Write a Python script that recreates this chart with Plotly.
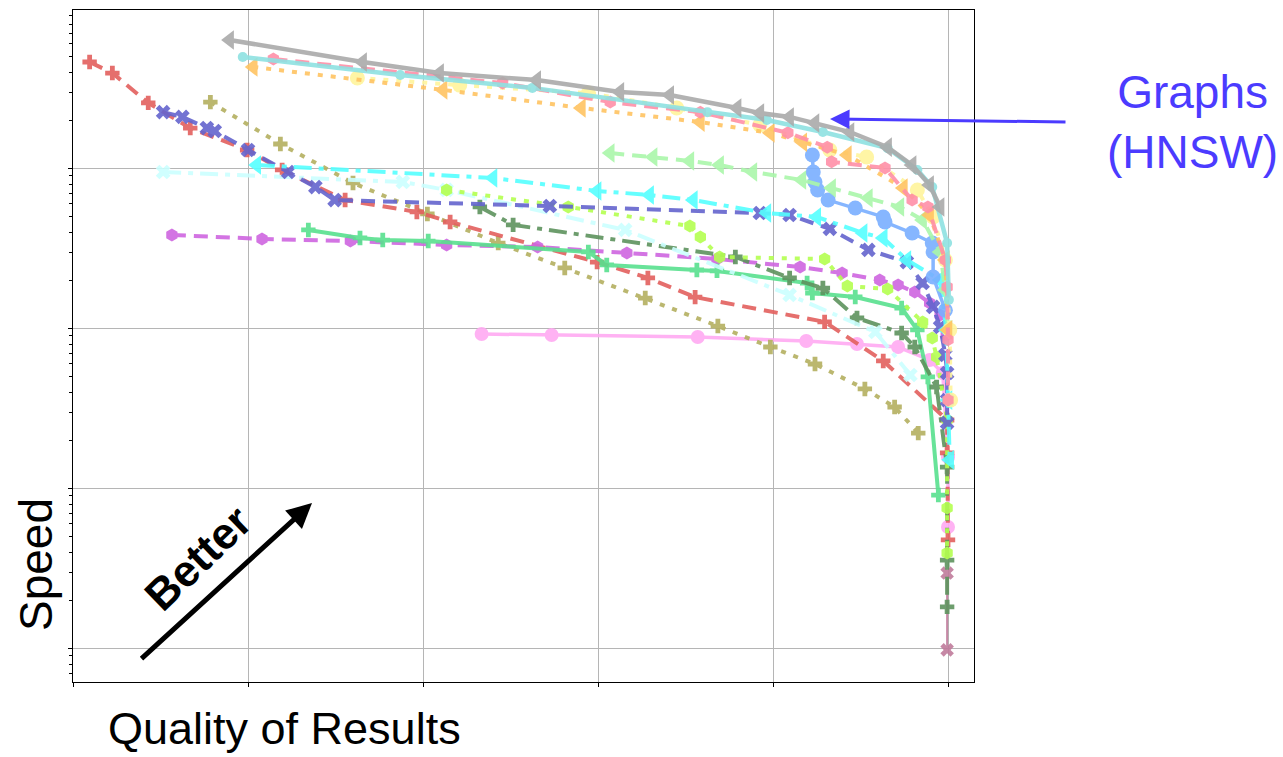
import plotly.graph_objects as go

# ---------------- data (recall, queries per second) ----------------
gray_x = [0.179, 0.331, 0.419, 0.530, 0.625, 0.682, 0.759, 0.785, 0.819, 0.848, 0.888, 0.931, 0.959, 0.979, 0.991]
gray_y = [63500, 46300, 39500, 35700, 30100, 28800, 23900, 22200, 21000, 19250, 16900, 13600, 10500, 7890, 5750]

teal_x = [0.194, 0.374, 0.525, 0.725, 0.793, 0.857, 0.931, 0.965, 0.982, 0.999, 1.001]
teal_y = [49800, 38400, 31900, 22500, 20100, 16900, 13400, 9790, 7660, 3420, 1510]

pink_x = [0.229, 0.491, 0.614, 0.717, 0.817, 0.862, 0.867, 0.928, 0.959, 0.977, 0.997, 0.999, 1.000, 1.000]
pink_y = [48300, 34200, 26000, 22500, 16700, 13600, 11000, 10070, 6350, 5750, 2680, 1820, 850, 357]

orange_x = [0.206, 0.423, 0.581, 0.717, 0.797, 0.834, 0.885, 0.949, 0.979, 0.997, 1.000]
orange_y = [43100, 31000, 23900, 19500, 16700, 14600, 12150, 7550, 5120, 2680, 980]

yellow_x = [0.325, 0.442, 0.589, 0.690, 0.785, 0.865, 0.907, 0.965, 0.983, 0.997, 1.002, 1.003]
yellow_y = [36800, 33200, 29600, 23900, 18700, 13050, 11800, 7340, 4980, 2680, 980, 357]

lgreen_x = [0.614, 0.663, 0.705, 0.739, 0.777, 0.833, 0.867, 0.909, 0.945, 0.971, 0.991, 0.997, 1.000]
lgreen_y = [12500, 11800, 11140, 10520, 9510, 8480, 7550, 6540, 5750, 4770, 3010, 1740, 980]

corn_x = [0.845, 0.846, 0.848, 0.851, 0.863, 0.894, 0.926, 0.928, 0.959, 0.982, 0.983, 0.983, 0.997]
corn_y = [12150, 9510, 8240, 7340, 6350, 5660, 4980, 4630, 3950, 3420, 3010, 2100, 1300]

cyan_x = [0.210, 0.480, 0.599, 0.659, 0.709, 0.793, 0.850, 0.903, 0.926, 0.953, 0.991, 0.998, 1.000, 1.002]
cyan_y = [10520, 8720, 7240, 6830, 6350, 5270, 4980, 3950, 3680, 2680, 2010, 980, 357, 151]

slate_x = [0.103, 0.125, 0.153, 0.162, 0.200, 0.246, 0.277, 0.299, 0.545, 0.785, 0.819, 0.865, 0.909, 0.953, 0.971,
           0.983, 0.991, 0.997, 0.999, 0.999, 0.999]
slate_y = [22500, 21000, 17900, 17150, 13050, 9510, 7660, 6350, 5830, 5270, 5120, 4190, 3100, 2600, 1925,
           1363, 1022, 683, 527, 357, 257]

red_x = [0.019, 0.045, 0.086, 0.134, 0.199, 0.239, 0.311, 0.393, 0.431, 0.599, 0.657, 0.711, 0.859, 0.926, 0.999, 0.999, 1.000]
red_y = [46300, 39500, 25700, 17900, 13050, 9790, 6350, 5350, 4630, 2600, 2070, 1570, 1100, 627, 268, 167, 47.7]

olive_x = [0.157, 0.237, 0.320, 0.405, 0.486, 0.562, 0.654, 0.737, 0.797, 0.848, 0.905, 0.939, 0.966]
olive_y = [26000, 14230, 8120, 5200, 3420, 2390, 1550, 1036, 766, 600, 419, 323, 222]

purple_x = [0.113, 0.216, 0.317, 0.427, 0.531, 0.633, 0.736, 0.831, 0.879, 0.922, 0.943, 0.962, 0.979, 0.991, 0.998]
purple_y = [3840, 3630, 3520, 3330, 3230, 2965, 2720, 2420, 2220, 2010, 1870, 1690, 1443, 1214, 911]

mgreen_x = [0.269, 0.328, 0.354, 0.406, 0.589, 0.610, 0.713, 0.736, 0.839, 0.845, 0.894, 0.947, 0.965, 0.977, 0.989]
mgreen_y = [4130, 3680, 3570, 3520, 3010, 2495, 2320, 2290, 1925, 1667, 1574, 1343, 979, 498, 91]

dgreen_x = [0.465, 0.503, 0.757, 0.819, 0.857, 0.896, 0.947, 0.962, 0.987, 0.999, 0.999, 0.999]
dgreen_y = [5750, 4440, 2800, 2070, 1790, 1163, 937, 766, 431, 136, 35.7, 18.2]

ygreen_x = [0.427, 0.566, 0.705, 0.717, 0.739, 0.859, 0.885, 0.931, 0.971, 0.982, 0.987, 0.999, 0.999, 0.999]
ygreen_y = [7340, 5750, 4370, 3730, 2800, 2720, 1843, 1766, 1098, 872, 663, 268, 75.5, 39.5]

lcyan_x = [0.103, 0.377, 0.427, 0.631, 0.819, 0.917, 0.957]
lcyan_y = [9510, 8240, 7340, 4130, 1620, 951, 512]

violet_x = [0.467, 0.547, 0.714, 0.838, 0.896, 0.943, 0.979, 0.994, 1.000, 1.000]
violet_y = [924, 911, 885, 835, 800, 766, 636, 527, 157, 57.4]

mauve_x = [0.999, 0.999]
mauve_y = [29.6, 9.8]

DASH = "14px,8px"
DOT = "5px,8px"
DASHDOT = "18px,7px,5px,7px"

# name, x, y, colour, dash, symbol, marker size, line width
series = [
    ("mauve", mauve_x, mauve_y, "#C07C9C", "solid", "x", 12, 2),
    ("violet", violet_x, violet_y, "#FFAAF2", "solid", "circle", 14, 3.5),
    ("olive", olive_x, olive_y, "#B4B060", DOT, "cross", 12, 4),
    ("red", red_x, red_y, "#E3605E", DASH, "cross", 12, 4),
    ("purple", purple_x, purple_y, "#CF66E0", DASH, "hexagon", 13, 4),
    ("mgreen", mgreen_x, mgreen_y, "#58E08E", "solid", "cross", 12, 4),
    ("dgreen", dgreen_x, dgreen_y, "#5E935E", DASHDOT, "cross", 12, 4),
    ("lcyan", lcyan_x, lcyan_y, "#CCFFFF", DASHDOT, "x", 13, 4),
    ("ygreen", ygreen_x, ygreen_y, "#B4FF50", DOT, "hexagon", 13, 4),
    ("slate", slate_x, slate_y, "#6464CE", DASH, "x", 13, 4),
    ("cyan", cyan_x, cyan_y, "#55FFFF", DASHDOT, "triangle-left", 17, 4),
    ("corn", corn_x, corn_y, "#7AAFFF", "solid", "circle", 15, 3.5),
    ("lgreen", lgreen_x, lgreen_y, "#AAF7AA", DASH, "triangle-left", 17, 4),
    ("yellow", yellow_x, yellow_y, "#FFF59C", DOT, "circle", 15, 4),
    ("orange", orange_x, orange_y, "#FFC462", DOT, "triangle-left", 17, 4),
    ("pink", pink_x, pink_y, "#FF90A8", DASH, "hexagon", 13, 4),
    ("teal", teal_x, teal_y, "#8EE2E2", "solid", "circle", 10, 4.5),
    ("gray", gray_x, gray_y, "#AAAAAA", "solid", "triangle-left", 17, 4.5),
]

fig = go.Figure()
for name, xs, ys, col, dash, sym, msz, lw in series:
    fig.add_trace(go.Scatter(
        x=xs, y=ys, name=name, mode="lines+markers",
        line=dict(color=col, dash=dash, width=lw),
        marker=dict(symbol=sym, size=msz, color=col, line=dict(width=0)),
        opacity=0.9, showlegend=False, hoverinfo="skip",
    ))

W, H = 1283, 757
L, R, T, B = 73, 309, 10, 75
pw, ph = W - L - R, H - T - B


def px(xp):
    return (xp - L) / pw


def py(yp):
    return (H - B - yp) / ph


font_main = "Liberation Sans, Arial, Helvetica, sans-serif"

fig.update_layout(
    width=W, height=H,
    margin=dict(l=L, r=R, t=T, b=B),
    paper_bgcolor="white", plot_bgcolor="white",
    xaxis=dict(
        range=[0, 901 / 875], tick0=0, dtick=0.2, showticklabels=False,
        ticks="outside", ticklen=4, tickcolor="black",
        showgrid=True, gridcolor="#B5B5B5", gridwidth=1,
        showline=True, linecolor="black", linewidth=1, mirror=True, zeroline=False,
    ),
    yaxis=dict(
        type="log", range=[0.7906, 4.9906], dtick=1, showticklabels=False,
        ticks="outside", ticklen=4, tickcolor="black",
        minor=dict(ticks="outside", ticklen=3, tickcolor="black", showgrid=False),
        showgrid=True, gridcolor="#B5B5B5", gridwidth=1,
        showline=True, linecolor="black", linewidth=1, mirror=True, zeroline=False,
    ),
    annotations=[
        dict(text="Speed", xref="paper", yref="paper", x=px(36), y=py(565),
             xanchor="center", yanchor="middle", textangle=-90, showarrow=False,
             font=dict(family=font_main, size=46, color="black")),
        dict(text="Quality of Results", xref="paper", yref="paper", x=px(284), y=py(728),
             xanchor="center", yanchor="middle", showarrow=False,
             font=dict(family=font_main, size=45, color="black")),
        dict(text="<b>Better</b>", xref="paper", yref="paper", x=px(197), y=py(558),
             xanchor="center", yanchor="middle", textangle=-44, showarrow=False,
             font=dict(family=font_main, size=44, color="black")),
        dict(text="", xref="paper", yref="paper", x=px(312), y=py(503),
             ax=140 - 312, ay=660 - 503, showarrow=True, arrowhead=2, arrowsize=1,
             arrowwidth=5, arrowcolor="black", standoff=0, startstandoff=0),
        dict(text="", xref="paper", yref="paper", x=px(830), y=py(119),
             ax=1067 - 830, ay=122 - 119, showarrow=True, arrowhead=2, arrowsize=1.3,
             arrowwidth=3, arrowcolor="#4B3BFF", standoff=0, startstandoff=0),
        dict(text="Graphs<br>(HNSW)", xref="paper", yref="paper", x=px(1192), y=py(122),
             xanchor="center", yanchor="middle", showarrow=False, align="center",
             font=dict(family=font_main, size=46, color="#4B3BFF")),
    ],
)

fig.write_html("out.html")
